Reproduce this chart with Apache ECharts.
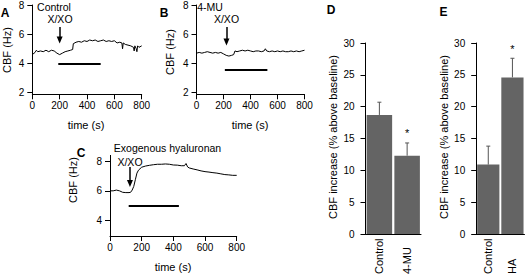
<!DOCTYPE html>
<html>
<head>
<meta charset="UTF-8">
<title>CBF</title>
<style>
  html, body { margin: 0; padding: 0; background: #fff; }
  #main { width: 526px; height: 277px; }
</style>
</head>
<body>
<div id="main"></div>
<script src="https://cdn.jsdelivr.net/npm/echarts@6/dist/echarts.min.js"></script>
<script>
// panel A - control trace
var timesA = [0,20,30,40,60,80,100,120,140,160,180,200,220,240,260,280,295,300,320,340,360,380,400,420,440,460,480,500,520,540,560,580,600,620,640,655,660,665,680,700,720,740,745,750,760,765,770,780,800];
var cbfA = [4.6,4.75,4.9,4.8,4.85,4.8,4.9,4.8,4.9,4.85,4.7,4.6,4.7,4.8,4.85,4.9,4.95,5.35,5.45,5.5,5.45,5.55,5.5,5.6,5.55,5.6,5.5,5.55,5.6,5.5,5.55,5.5,5.55,5.4,5.45,5.4,5.0,5.4,5.3,5.25,5.2,5.1,4.85,5.2,5.0,4.8,5.2,5.1,5.2];
// panel B - 4-MU trace
var timesB = [0,20,40,60,80,100,120,140,160,180,200,220,240,260,275,285,300,320,340,360,380,400,420,440,460,480,500,510,520,540,560,580,600,620,640,660,680,700,720,740,760,780,800];
var cbfB = [4.7,4.75,4.7,4.75,4.8,4.75,4.7,4.75,4.7,4.75,4.65,4.55,4.5,4.55,4.6,4.85,4.8,4.85,4.9,4.85,4.9,4.85,4.8,4.85,4.85,4.8,4.85,5.0,4.85,4.8,4.85,4.8,4.85,4.8,4.85,4.8,4.8,4.85,4.8,4.85,4.8,4.85,4.9];
// panel C - exogenous hyaluronan trace
var timesC = [0,20,40,60,80,100,120,130,140,150,160,170,180,200,225,250,275,300,325,350,375,400,425,450,470,480,490,500,525,550,575,600,625,650,675,700,725,750,775,800];
var cbfC = [6.0,6.0,6.05,6.0,5.9,5.88,5.88,5.9,6.05,6.3,6.75,7.2,7.4,7.6,7.68,7.73,7.77,7.8,7.8,7.82,7.8,7.75,7.74,7.7,7.7,7.85,7.62,7.55,7.48,7.42,7.35,7.3,7.27,7.23,7.2,7.15,7.1,7.08,7.05,7.05];

// X/XO exposure: [start, end, level] and arrow [time, top, tip]
var stimA = [190, 500, 4.0];
var stimB = [210, 525, 3.53];
var stimC = [118, 435, 5.0];
var arrowA = [200, 6.5, 5.6];
var arrowB = [222, 6.5, 5.47];
var arrowC = [126, 7.62, 6.5];

var timeTicks = [0, 200, 400, 600, 800];
var cbfTicksAB = [2, 4, 6, 8];
var cbfTicksC = [4, 6, 8];

// panels D and E
var catsD = ['Control', '4-MU'];
var meanD = [18.7, 12.3];
var semD = [2.0, 2.0];
var sigD = [false, true];
var catsE = ['Control', 'HA'];
var meanE = [10.9, 24.6];
var semE = [2.9, 3.0];
var sigE = [false, true];

var FONT = 'Liberation Sans, Arial, Helvetica, sans-serif';
var INK = '#000';
var BARC = '#646464';

function pairs(t, v) {
	return t.map(function (x, i) { return [x, v[i]]; });
}

function timeAxis(idx) {
	return {
		type: 'value', gridIndex: idx, min: 0, max: 800, interval: 200,
		axisLine: { lineStyle: { color: INK, width: 1 } },
		axisTick: { length: 5, lineStyle: { color: INK } },
		axisLabel: { color: INK, fontSize: 10, fontFamily: FONT, margin: 6 },
		splitLine: { show: false }
	};
}

function cbfAxis(idx, min, max, ticks) {
	return {
		type: 'value', gridIndex: idx, min: min, max: max,
		axisLine: { show: true, lineStyle: { color: INK, width: 1 } },
		axisTick: { show: true, length: 5, customValues: ticks, lineStyle: { color: INK } },
		axisLabel: { color: INK, fontSize: 10, fontFamily: FONT, margin: 8, customValues: ticks },
		splitLine: { show: false }
	};
}

function barCatAxis(idx, cats) {
	return {
		type: 'category', gridIndex: idx, data: cats,
		axisLine: { lineStyle: { color: INK, width: 1 } },
		axisTick: { length: 5, lineStyle: { color: INK } },
		axisLabel: { color: INK, fontSize: 11, fontFamily: FONT, rotate: 90, align: 'left', margin: 40 }
	};
}

function pctAxis(idx) {
	return {
		type: 'value', gridIndex: idx, min: 0, max: 30, interval: 5,
		axisLine: { show: true, lineStyle: { color: INK, width: 1 } },
		axisTick: { show: true, length: 5, lineStyle: { color: INK } },
		axisLabel: { color: INK, fontSize: 10, fontFamily: FONT, margin: 11 },
		splitLine: { show: false }
	};
}

function annot(stim, arrow) {
	return {
		silent: true, symbol: 'none', animation: false,
		label: { show: false },
		data: [
			[{ coord: [stim[0], stim[2]], lineStyle: { color: INK, width: 2.2, type: 'solid' } },
			 { coord: [stim[1], stim[2]] }],
			[{ coord: [arrow[0], arrow[1]], lineStyle: { color: INK, width: 1.5, type: 'solid' } },
			 { coord: [arrow[0], arrow[2]], symbol: 'triangle', symbolSize: [6, 7] }]
		]
	};
}

function trace(idx, t, v, stim, arrow) {
	return {
		type: 'line', xAxisIndex: idx, yAxisIndex: idx,
		data: pairs(t, v), showSymbol: false, symbol: 'none',
		lineStyle: { color: INK, width: 1 }, animation: false,
		markLine: annot(stim, arrow)
	};
}

function errBars(idx, mean, sem, sig) {
	return {
		type: 'custom', xAxisIndex: idx, yAxisIndex: idx, animation: false, z: 5,
		data: mean.map(function (m, i) { return [i, m, sem[i], sig[i] ? 1 : 0]; }),
		renderItem: function (params, api) {
			var p0 = api.coord([api.value(0), api.value(1)]);
			var p1 = api.coord([api.value(0), api.value(1) + api.value(2)]);
			var kids = [
				{ type: 'line', shape: { x1: p0[0], y1: p0[1], x2: p1[0], y2: p1[1] }, style: { stroke: '#555', lineWidth: 1 } },
				{ type: 'line', shape: { x1: p1[0] - 2, y1: p1[1], x2: p1[0] + 2, y2: p1[1] }, style: { stroke: '#555', lineWidth: 1 } }
			];
			if (api.value(3)) {
				kids.push({ type: 'text', x: p1[0], y: p1[1] - 4,
					style: { text: '*', font: '11px ' + FONT, fill: INK, align: 'center', verticalAlign: 'bottom' } });
			}
			return { type: 'group', children: kids };
		}
	};
}

function bars(idx, mean) {
	return {
		type: 'bar', xAxisIndex: idx, yAxisIndex: idx, data: mean,
		barCategoryGap: '8%', itemStyle: { color: BARC }, animation: false
	};
}

function txt(s, x, y, size, bold, rot) {
	return {
		type: 'text', x: x, y: y, rotation: rot || 0, silent: true,
		style: { text: s, font: (bold ? 'bold ' : '') + size + 'px ' + FONT, fill: INK, align: 'center', verticalAlign: 'middle' }
	};
}

var chart = echarts.init(document.getElementById('main'), null, { renderer: 'svg' });
var R = Math.PI / 2;

chart.setOption({
	backgroundColor: '#fff',
	animation: false,
	grid: [
		{ left: 32.3, top: 4.7, width: 109.4, height: 89.6 },
		{ left: 196.5, top: 4.7, width: 108, height: 89.6 },
		{ left: 110, top: 155.4, width: 126.7, height: 80.6 },
		{ left: 365.5, top: 43, width: 55.5, height: 191 },
		{ left: 476.2, top: 43, width: 48.3, height: 191 }
	],
	xAxis: [timeAxis(0), timeAxis(1), timeAxis(2), barCatAxis(3, catsD), barCatAxis(4, catsE)],
	yAxis: [cbfAxis(0, 1.88, 8, cbfTicksAB), cbfAxis(1, 1.88, 8, cbfTicksAB), cbfAxis(2, 2.94, 8.4, cbfTicksC), pctAxis(3), pctAxis(4)],
	series: [
		trace(0, timesA, cbfA, stimA, arrowA),
		trace(1, timesB, cbfB, stimB, arrowB),
		trace(2, timesC, cbfC, stimC, arrowC),
		bars(3, meanD), errBars(3, meanD, semD, sigD),
		bars(4, meanE), errBars(4, meanE, semE, sigE)
	],
	graphic: [
		txt('A', 5, 13, 12, true),
		txt('B', 164, 13, 12, true),
		txt('C', 81, 153, 12, true),
		txt('D', 331, 10, 12, true),
		txt('E', 443.5, 12, 12, true),
		txt('Control', 54, 6.5, 10.5),
		txt('X/XO', 60, 19, 10.5),
		txt('4-MU', 210, 6.5, 10.5),
		txt('X/XO', 226.5, 19, 10.5),
		txt('Exogenous hyaluronan', 167.5, 148, 10.5),
		txt('X/XO', 130, 162, 10.5),
		txt('CBF (Hz)', 6.5, 50, 11, false, R),
		txt('CBF (Hz)', 170, 52, 11, false, R),
		txt('CBF (Hz)', 73, 180, 11, false, R),
		txt('time (s)', 86, 125, 11),
		txt('time (s)', 250, 125, 11),
		txt('time (s)', 173, 267, 11),
		txt('CBF increase (% above baseline)', 333, 137, 11, false, R),
		txt('CBF increase (% above baseline)', 443.5, 137, 11, false, R)
	]
});
</script>
</body>
</html>
